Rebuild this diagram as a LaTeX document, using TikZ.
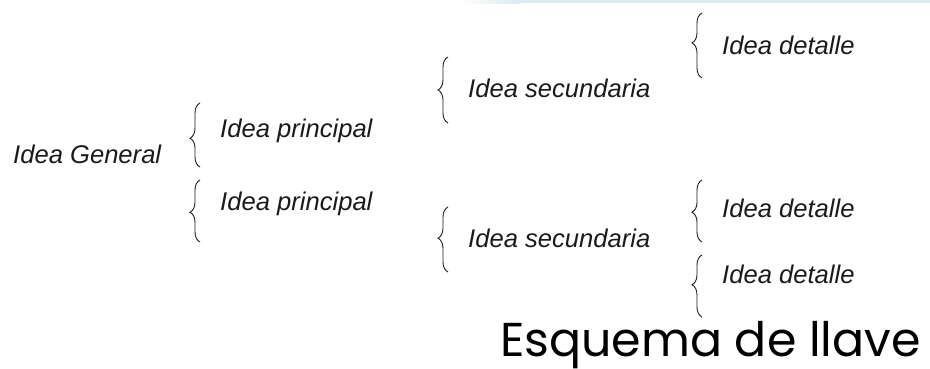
\documentclass[tikz,border=0pt]{standalone}
\usepackage{fontspec}
\setmainfont{Liberation Sans}
\newfontfamily\titlefont{Poppins}
\usetikzlibrary{positioning,calc,decorations.pathreplacing}
\definecolor{barblue}{HTML}{DCEAF2}
\definecolor{ink}{HTML}{1A1A1A}

\tikzset{
  idea/.style={anchor=base west, inner sep=0pt, text=ink, font=\fontsize{25.6}{28}\selectfont\itshape},
  llave/.style={decorate, decoration={brace, amplitude=10pt, aspect=#1}, line width=0.9pt, draw=ink},
  llave/.default=0.5
}

\begin{document}
\begin{tikzpicture}[x=1pt,y=1pt]
  \useasboundingbox (0,0) rectangle (930,-368);

  % top bar
  \shade[left color=white, right color=barblue] (460,0) rectangle (520,-3);
  \fill[barblue] (520,0) rectangle (930,-3);

  \node[idea] (general) at (13,-163) {Idea General};
  \node[idea] (prin1) at (220,-137) {Idea principal};
  \node[idea] (prin2) at (220,-210) {Idea principal};
  \node[idea] (sec1) at (468,-97) {Idea secundaria};
  \node[idea] (sec2) at (468,-247) {Idea secundaria};
  \node[idea] (det1) at (722,-54) {Idea detalle};
  \node[idea] (det2) at (722,-217) {Idea detalle};
  \node[idea] (det3) at (722,-283) {Idea detalle};

  \node[anchor=base east, inner sep=0pt, font=\titlefont\fontsize{47.5}{52}\selectfont] (titulo) at (921,-356) {Esquema de llave};

  % braces: node/up/down/aspect
  \foreach \n/\u/\d/\a in {prin1/34/30/0.45, prin2/30/32/0.48, sec1/40/26/0.5, sec2/40/25/0.52, det1/41/24/0.54, det2/37/25/0.48, det3/28/34/0.52}{
    \draw[llave=\a] ($ (\n.base west)+(-20,-\d) $) -- ($ (\n.base west)+(-20,\u) $);
  }
\end{tikzpicture}
\end{document}
